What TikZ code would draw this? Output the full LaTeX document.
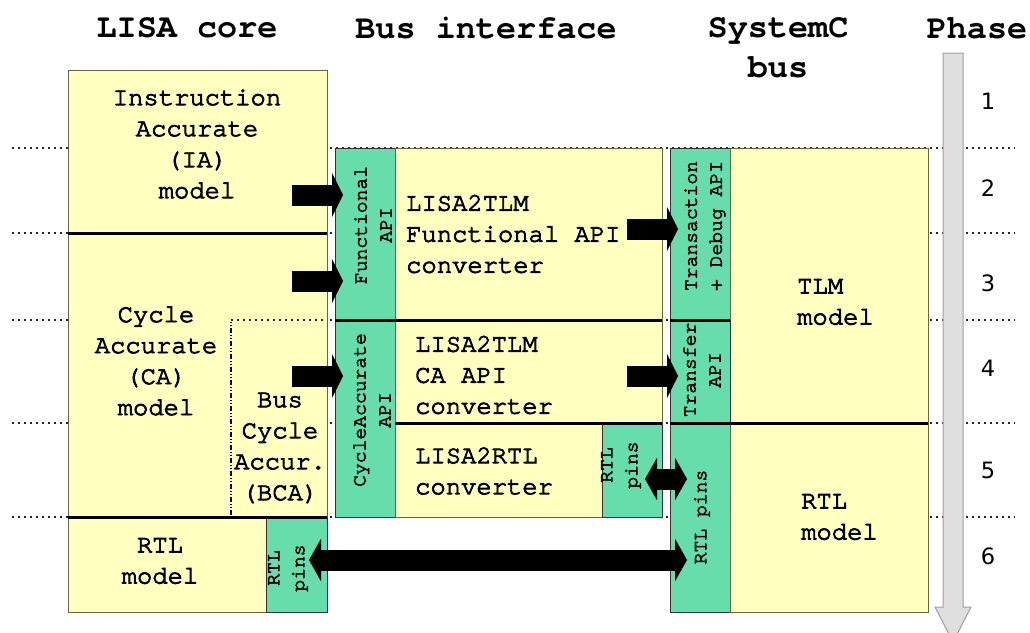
\documentclass[tikz,border=0pt]{standalone}
\usepackage{fontspec}
\newfontfamily\mono{texgyrecursor-regular.otf}[FakeBold=3.5]
\newfontfamily\monobold{texgyrecursor-bold.otf}
\newfontfamily\sansd{DejaVu Sans}
\usetikzlibrary{arrows.meta,calc}
\definecolor{ylw}{HTML}{FFFFC0}
\definecolor{grn}{HTML}{66DDAA}
\definecolor{edge}{HTML}{6B6440}
\tikzset{
  box/.style={rectangle, draw=edge, line width=0.8pt, inner sep=0pt, outer sep=0pt, anchor=north west},
  ybox/.style={box, fill=ylw},
  gbox/.style={box, fill=grn, draw=black!80},
  txt/.style={font=\mono\fontsize{25.5}{31}\selectfont, align=center, inner sep=0pt},
  ltxt/.style={txt, align=left, anchor=west},
  vtxt/.style={font=\mono\fontsize{19.7}{25}\selectfont, align=center, rotate=90, inner sep=0pt},
  hdr/.style={font=\monobold\fontsize{33.5}{40}\selectfont, align=center, inner sep=0pt},
  phnum/.style={font=\sansd\fontsize{22.5}{26}\selectfont, inner sep=0pt},
  thickbar/.style={line width=3pt, black},
  phline/.style={line width=2.2pt, dash pattern=on 2pt off 4pt, black!85},
  bcaline/.style={line width=1.5pt, dash pattern=on 5pt off 2pt on 1pt off 2pt on 1pt off 2pt, black},
  blk/.style={line width=21pt, black, -{Triangle[length=11pt,width=44pt]}},
  blkd/.style={line width=21pt, black, {Triangle[length=12pt,width=42pt]}-{Triangle[length=12pt,width=42pt]}},
  phasebar/.style={fill=gray!25, draw=gray!75, line width=1pt}
}
\begin{document}
\begin{tikzpicture}[x=1pt,y=-1pt]
\useasboundingbox (0,0) rectangle (1030,632);
\fill[white] (0,0) rectangle (1030,632);
% phase separators
\foreach \yy in {148,233,320,423,517}{
  \draw[phline] (12,\yy) -- (1015,\yy);
}
% phase arrow
\draw[phasebar] (943,53) -- (963,53) -- (963,607) -- (971,607) -- (953,642) -- (935,607) -- (943,607) -- cycle;
% headers
\node[hdr] (hlisa) at (187,28) {LISA core};
\node[hdr] (hbus) at (486,28) {Bus interface};
\node[hdr] (hsc) at (778,48) {SystemC\\bus};
\node[hdr] (hph) at (977,28) {Phase};
% phase numbers
\node[phnum] (p1) at (988,101) {1};
\node[phnum] (p2) at (988,188) {2};
\node[phnum] (p3) at (988,283) {3};
\node[phnum] (p4) at (988,368) {4};
\node[phnum] (p5) at (988,470) {5};
\node[phnum] (p6) at (988,556) {6};
% LISA core
\node[ybox, minimum width=259pt, minimum height=163pt] (ia) at (68,70) {};
\node[ybox, minimum width=259pt, minimum height=284pt] (ca) at (68,233) {};
\node[ybox, minimum width=198pt, minimum height=95pt] (rtll) at (68,517) {};
\node[gbox, minimum width=61pt, minimum height=95pt] (pinsl) at (266,517) {};
% bus interface
\node[gbox, minimum width=60pt, minimum height=172pt] (fapi) at (335,148) {};
\node[ybox, minimum width=267pt, minimum height=172pt] (fconv) at (395,148) {};
\node[gbox, minimum width=60pt, minimum height=197pt] (caapi) at (335,320) {};
\node[ybox, minimum width=267pt, minimum height=103pt] (caconv) at (395,320) {};
\node[ybox, minimum width=267pt, minimum height=94pt] (rtlconv) at (395,423) {};
\node[gbox, minimum width=60pt, minimum height=94pt] (pinsm) at (602,423) {};
% SystemC bus
\node[gbox, minimum width=60pt, minimum height=172pt] (tapi) at (670,148) {};
\node[ybox, minimum width=198pt, minimum height=275pt] (tlm) at (730,148) {};
\node[gbox, minimum width=60pt, minimum height=103pt] (trapi) at (670,320) {};
\node[gbox, minimum width=60pt, minimum height=189pt] (pinsr) at (670,423) {};
\node[ybox, minimum width=198pt, minimum height=189pt] (rtlr) at (730,423) {};
% thick separators
\draw[thickbar] (ia.south west) -- (ia.south east);
\draw[thickbar] (ca.south west) -- (ca.south east);
\draw[thickbar] (fapi.south west) -- (fconv.south east);
\draw[thickbar] (caconv.south west) -- (caconv.south east);
\draw[thickbar] (tapi.south west) -- (tapi.south east);
\draw[thickbar] (pinsr.north west) -- (rtlr.north east);
% BCA region
\coordinate (bcatop) at (231,320);
\coordinate (bcabot) at (231,515);
\draw[bcaline] (bcabot) -- ($(bcatop)+(0,2)$);
\draw[phline] (bcatop) -- (ca.east |- bcatop);
% texts
\node[txt] (tia) at (197,144) {Instruction\\Accurate\\(IA)\\model};
\node[txt] (tca) at (156,361) {Cycle\\Accurate\\(CA)\\model};
\node[txt] (tbca) at (280,448) {Bus\\Cycle\\Accur.\\(BCA)};
\node[txt] (trtll) at (160,561) {RTL\\model};
\node[vtxt] (tpinsl) at (288,568) {RTL\\pins};
\node[vtxt] (tfapi) at (373,225) {Functional\\API};
\node[vtxt] (tcaapi) at (372,410) {CycleAccurate\\API};
\node[ltxt] (tfconv) at (406,234) {LISA2TLM\\Functional API\\converter};
\node[ltxt] (tcaconv) at (415,375) {LISA2TLM\\CA API\\converter};
\node[ltxt] (trtlconv) at (415,471) {LISA2RTL\\converter};
\node[vtxt] (tpinsm) at (621,465) {RTL\\pins};
\node[vtxt] (ttapi) at (705,226) {Transaction\\+ Debug API};
\node[vtxt] (ttrapi) at (702,370) {Transfer\\API};
\node[vtxt] (tpinsr) at (702,517) {RTL pins};
\node[ltxt] (ttlm) at (797,302) {TLM\\model};
\node[ltxt] (trtlr) at (801,517) {RTL\\model};
% block arrows
\coordinate (a1s) at (292,195); \coordinate (a1e) at (343,195);
\coordinate (a2s) at (292,281); \coordinate (a2e) at (343,281);
\coordinate (a3s) at (292,376); \coordinate (a3e) at (343,376);
\coordinate (a4s) at (627,229); \coordinate (a4e) at (678,229);
\coordinate (a5s) at (627,376); \coordinate (a5e) at (678,376);
\coordinate (d1s) at (645,479); \coordinate (d1e) at (687,479);
\coordinate (d2s) at (309,560); \coordinate (d2e) at (687,560);
\draw[blk] (a1s) -- (a1e);
\draw[blk] (a2s) -- (a2e);
\draw[blk] (a3s) -- (a3e);
\draw[blk] (a4s) -- (a4e);
\draw[blk] (a5s) -- (a5e);
\draw[blkd] (d1s) -- (d1e);
\draw[blkd] (d2s) -- (d2e);
\end{tikzpicture}
\end{document}
